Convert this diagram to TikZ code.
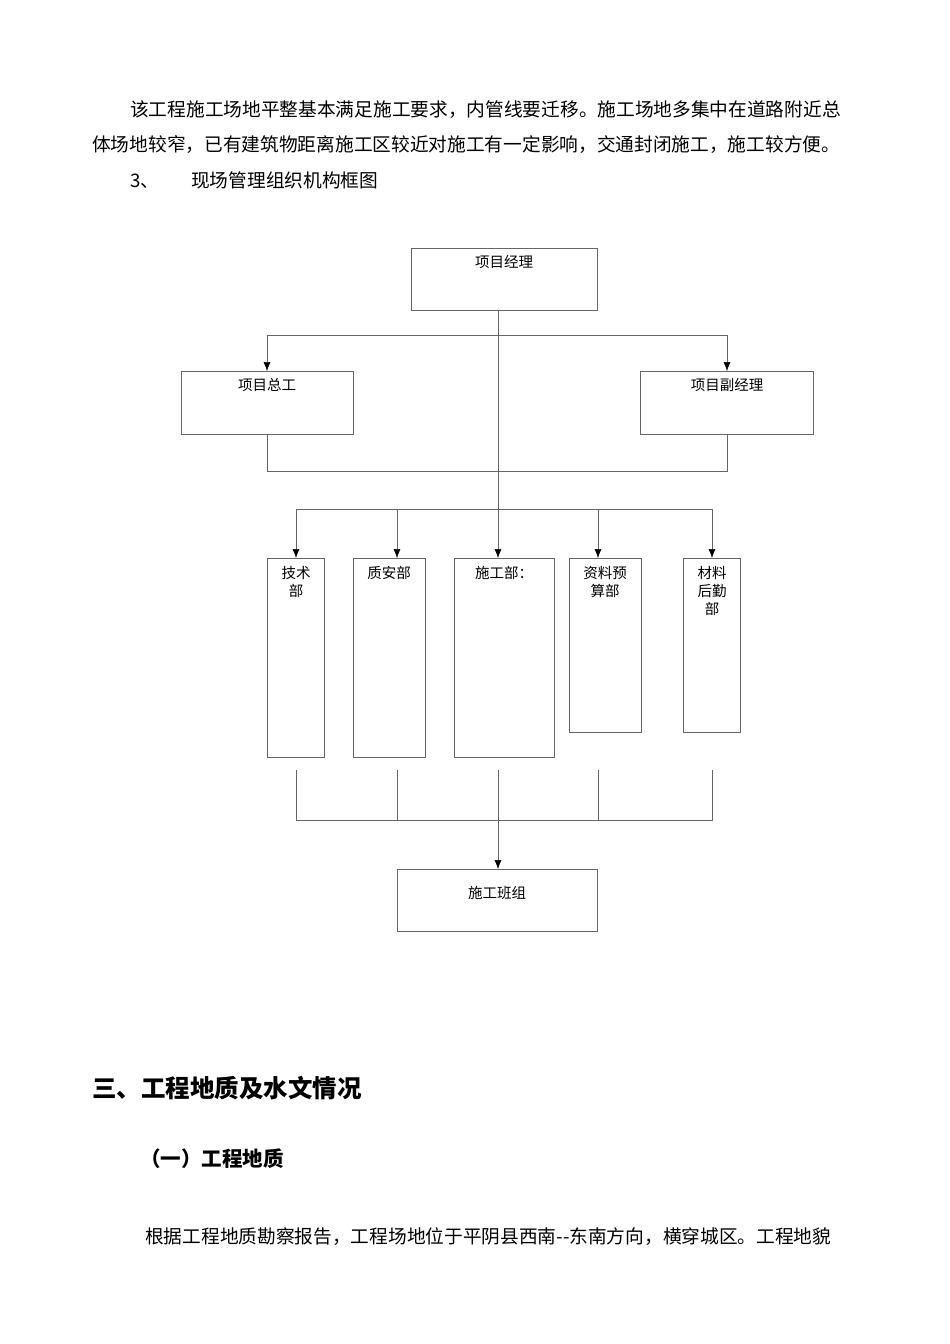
\documentclass[tikz,border=0pt]{standalone}
\usepackage{fontspec}
\setmainfont{Noto Sans CJK SC}
\usetikzlibrary{arrows.meta}
\begin{document}
\begin{tikzpicture}[x=1pt,y=-1pt,
  bx/.style={draw=gray!80!black,line width=0.5pt},
  ln/.style={draw=gray!80!black,line width=0.5pt},
  ar/.style={ln,-{Latex[length=9pt,width=7pt,fill=black,color=black]}},
  lbl/.style={font=\fontsize{14.5}{18}\selectfont,align=center,anchor=north,inner sep=0pt},
  body/.style={font=\fontsize{18.7}{22}\selectfont,anchor=west,inner sep=0pt}]
\useasboundingbox (0,0) rectangle (950,1344);
\node[body] (p1) at (130,110) {该工程施工场地平整基本满足施工要求，内管线要迁移。施工场地多集中在道路附近总};
\node[body] (p2) at (92,145) {体场地较窄，已有建筑物距离施工区较近对施工有一定影响，交通封闭施工，施工较方便。};
\node[body] (p3) at (130,180) {3、\hspace{32pt}现场管理组织机构框图};
% boxes
\draw[bx] (411,248) rectangle (597,310); \node[lbl] (a) at (504,255) {项目经理};
\draw[bx] (181,371) rectangle (353,434); \node[lbl] (b) at (267,378) {项目总工};
\draw[bx] (640,371) rectangle (813,434); \node[lbl] (c) at (727,378) {项目副经理};
\draw[bx] (267,558) rectangle (324,757); \node[lbl] (d1) at (296,566) {技术\\部};
\draw[bx] (353,558) rectangle (425,757); \node[lbl] (d2) at (389,566) {质安部};
\draw[bx] (454,558) rectangle (554,757); \node[lbl] (d3) at (504,566) {施工部：};
\draw[bx] (569,558) rectangle (641,732); \node[lbl] (d4) at (605,566) {资料预\\算部};
\draw[bx] (683,558) rectangle (740,732); \node[lbl] (d5) at (712,566) {材料\\后勤\\部};
\draw[bx] (397,869) rectangle (597,931); \node[lbl] (e) at (497,886) {施工班组};
% connectors
\draw[ln] (498,310) -- (498,509);
\draw[ar] (498,770) -- (498,869);
\draw[ln] (267,335) -- (727,335);
\draw[ar] (267,335) -- (267,371);
\draw[ar] (727,335) -- (727,371);
\draw[ln] (267,434) -- (267,471) -- (727,471) -- (727,434);
\draw[ln] (296,509) -- (712,509);
\foreach \x in {296,397,498,598,712} \draw[ar] (\x,509) -- (\x,558);
\draw[ln] (296,770) -- (296,820) -- (712,820) -- (712,770);
\draw[ln] (397,770) -- (397,820);
\draw[ln] (598,770) -- (598,820);
% bottom text
\node[body,font=\fontsize{24.5}{28}\selectfont\bfseries] (h1) at (92,1088) {三、工程地质及水文情况};
\node[body,font=\fontsize{20.5}{24}\selectfont\bfseries] (h2) at (140,1159) {（一）工程地质};
\node[body] (p4) at (145,1237) {根据工程地质勘察报告，工程场地位于平阴县西南{-}{-}东南方向，横穿城区。工程地貌};
\end{tikzpicture}
\end{document}
